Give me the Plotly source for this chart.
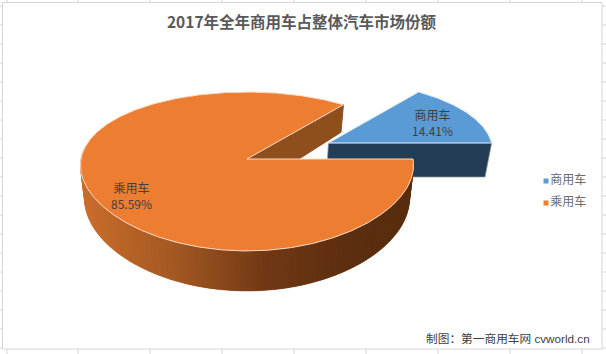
import numpy as np
import plotly.graph_objects as go

categories = ["商用车", "乘用车"]
shares = [14.41, 85.59]
chart_title = "2017年全年商用车占整体汽车市场份额"
footer = "制图：第一商用车网 cvworld.cn"
top_colors = ["#5B9BD5", "#ED7D31"]

W, H = 606, 354
CX, CY, R, Q, PX, PY = 247, 159, 166, 77.5, 0.08, 0.157
EXPLODE = 0.555


def proj(u, v, z=0.0):
    u, v = np.asarray(u, float), np.asarray(v, float)
    x = CX + R * (1 - 0.025 * z) * u / (1 + PX * v)
    y = CY + z * (33 - 7 * v) - Q * v / (1 + PY * v)
    return x, y


def arc(a0, a1, n=None):
    n = n or max(2, int(abs(a1 - a0)) * 2)
    t = np.radians(np.linspace(a0, a1, n))
    return np.cos(t), np.sin(t)


def poly(x, y, fill, line=None, width=1.0):
    return go.Scatter(x=list(x) + [x[0]], y=list(y) + [y[0]], mode="lines", fill="toself",
                      fillcolor=fill, line=dict(color=line or fill, width=width),
                      hoverinfo="skip", showlegend=False)


def side_color(x):
    stops_x = [79, 170, 270, 350, 413]
    r = np.interp(x, stops_x, [204, 166, 113, 92, 88])
    g = np.interp(x, stops_x, [110, 90, 56, 47, 45])
    b = np.interp(x, stops_x, [44, 36, 21, 16, 15])
    return f"rgb({r:.0f},{g:.0f},{b:.0f})"


sweep = shares[0] / sum(shares) * 360
mid = np.radians(sweep / 2)
ou, ov = EXPLODE * np.cos(mid), 0.88 * EXPLODE * np.sin(mid)
traces = []

# Exploded slice: front cut face, then top
xt, yt = proj([ou, ou + 1], [ov, ov], 0)
xb, yb = proj([ou + 1, ou], [ov, ov], 1.08)
traces.append(poly(list(xt) + list(xb), list(yt) + list(yb), "#223D54", "#8c9aa6", 0.7))
au, av = arc(0, sweep)
x, y = proj(np.r_[ou, ou + au], np.r_[ov, ov + av], 0)
traces.append(poly(x, y, top_colors[0], "#dbe8f4", 1))

# Large slice: inner cut face
eu, ev = np.cos(np.radians(sweep)), np.sin(np.radians(sweep))
xt, yt = proj([0, eu], [0, ev], 0)
xb, yb = proj([eu, 0], [ev, 0], 1)
traces.append(poly(list(xt) + list(xb), list(yt) + list(yb), "#8F4F1C"))

# Large slice: curved wall, drawn as overlapping strips so no seams show
edges = np.arange(172, 360.5, 1.0)
for a0, a1 in zip(edges[:-1], edges[1:]):
    u, v = arc(a0, min(a1 + 1.0, 360), 3)
    xt, yt = proj(u, v, 0)
    xb, yb = proj(u[::-1], v[::-1], 1)
    col = side_color(xt.mean())
    traces.append(poly(list(xt) + list(xb), list(yt) + list(yb), col, col, 0.3))

# Large slice: top
au, av = arc(sweep, 360)
x, y = proj(np.r_[0, au], np.r_[0, av], 0)
traces.append(poly(x, y, top_colors[1], "#f8dcc8", 1))

# Legend drawn as a marker + text series
traces.append(go.Scatter(x=[546, 546], y=[181, 203], mode="markers+text",
                         marker=dict(symbol="square", size=5, color=top_colors),
                         text=categories, textposition="middle right",
                         textfont=dict(family="Noto Sans CJK SC", size=12, color="#6a6a6a"),
                         hoverinfo="skip", showlegend=False))

grid = "#d6d6d6"
shapes = [dict(type="rect", x0=2.5, y0=2.5, x1=602, y1=349, line=dict(color=grid, width=1))]
for xv in [7, 78, 150, 222, 294, 366, 438, 510, 582]:
    shapes.append(dict(type="line", x0=xv, x1=xv, y0=0, y1=2.5, line=dict(color=grid, width=1)))
    shapes.append(dict(type="line", x0=xv, x1=xv, y0=349, y1=354, line=dict(color=grid, width=1)))
for yv in range(6, 354, 19):
    shapes.append(dict(type="line", x0=0, x1=2.5, y0=yv, y1=yv, line=dict(color=grid, width=1)))
    shapes.append(dict(type="line", x0=602, x1=606, y0=yv, y1=yv, line=dict(color=grid, width=1)))

label_font = dict(family="Noto Sans CJK SC", size=12, color="#404040")
annotations = [
    dict(x=432, y=122, text=f"{categories[0]}<br>{shares[0]:.2f}%"),
    dict(x=131, y=195, text=f"{categories[1]}<br>{shares[1]:.2f}%"),
]
for a in annotations:
    a.update(xref="x", yref="y", showarrow=False, font=label_font, align="center")
annotations.append(dict(x=592, y=338, xref="x", yref="y", xanchor="right", showarrow=False, text=footer,
                        font=dict(family="Liberation Sans, Noto Sans CJK SC", size=11.7, color="#404040")))

fig = go.Figure(traces)
fig.update_layout(
    width=W, height=H, margin=dict(l=0, r=0, t=0, b=0),
    paper_bgcolor="white", plot_bgcolor="white", showlegend=False,
    title=dict(text=f"<b>{chart_title}</b>", x=301.5 / W, xanchor="center", y=1 - 23 / H, yanchor="middle",
               font=dict(family="Noto Sans CJK SC", size=15.5, color="#595959")),
    xaxis=dict(range=[0, W], visible=False, fixedrange=True),
    yaxis=dict(range=[H, 0], visible=False, fixedrange=True),
    shapes=shapes, annotations=annotations,
)
fig.write_html("out.html", config=dict(displayModeBar=False),
               post_script="document.body.style.margin='0';document.documentElement.style.overflow='hidden';")
